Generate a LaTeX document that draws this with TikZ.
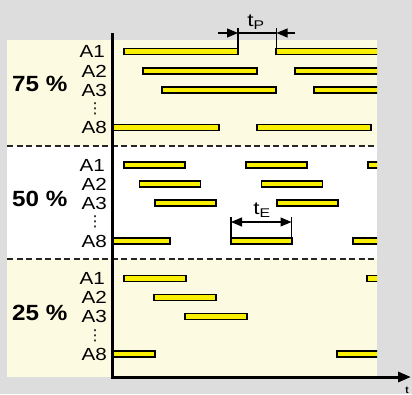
\documentclass[tikz,border=0pt]{standalone}
\usepackage{fontspec}
\setmainfont{Liberation Sans}
\newfontfamily\dejavu{DejaVu Sans}
\newfontfamily\widesans[FakeStretch=1.18]{Liberation Sans}
\newfontfamily\pctsans[FakeStretch=1.1]{Liberation Sans}
\newfontfamily\dimsans[FakeStretch=1.25]{Liberation Sans}
\usetikzlibrary{arrows.meta}
\definecolor{bggray}{HTML}{DDDDDD}
\definecolor{panel}{HTML}{FDFAE2}
\definecolor{baryellow}{HTML}{F8F000}
\tikzset{
  barbox/.style={fill=baryellow,draw=black,line width=1.5pt},
  rowlabel/.style={anchor=east,inner sep=0pt,font=\fontsize{17.5}{17.5}\widesans},
  pctlabel/.style={anchor=west,inner sep=0pt,font=\fontsize{22}{22}\pctsans\bfseries},
  dotslabel/.style={inner sep=0pt,font=\fontsize{15}{15}\dejavu},
  divider/.style={dashed,dash pattern=on 6pt off 3.5pt,line width=1.2pt,draw=black!85},
  dimline/.style={line width=1.1pt},
  extline/.style={line width=1.4pt},
  axisline/.style={line width=3pt},
  dimtip/.style={-{Triangle[length=11pt,width=9pt]}},
  dimlabel/.style={inner sep=0pt,font=\fontsize{18}{18}\dimsans}
}
\newcommand{\onebar}[3]{\draw[barbox] (#1,#3-3.2) rectangle (#2,#3+3.2);}
\begin{document}
\begin{tikzpicture}[x=1pt,y=-1pt]
\useasboundingbox (0,0) rectangle (412,394);
\fill[bggray] (0,0) rectangle (412,394);
\fill[panel] (7,40) rectangle (377,377);
\fill[white] (7,146) rectangle (377,259);
\draw[divider] (7,146) -- (377,146);
\draw[divider] (7,259) -- (377,259);
% bars
\begin{scope}
\clip (113,0) rectangle (377,394);
% 75 %
\onebar{124}{238}{51.5}\onebar{276}{390}{51.5}
\onebar{143}{257}{71}\onebar{295}{409}{71}
\onebar{162}{276}{90}\onebar{314}{428}{90}
\onebar{105}{219}{127.5}\onebar{257}{371}{127.5}
% 50 %
\onebar{124}{185}{165}\onebar{246}{307}{165}\onebar{368}{429}{165}
\onebar{139.5}{200.5}{184}\onebar{261.5}{322.5}{184}\onebar{383.5}{444.5}{184}
\onebar{155}{216}{203}\onebar{277}{338}{203}
\onebar{109}{170}{241}\onebar{231}{292}{241}\onebar{353}{414}{241}
% 25 %
\onebar{124}{186}{278.5}\onebar{367}{429}{278.5}
\onebar{154}{216}{297.5}
\onebar{185}{247}{316.5}
\onebar{93}{155}{354}\onebar{337}{399}{354}
\end{scope}
% axes
\coordinate (ytop) at (112.5,33);
\coordinate (origin) at (112.5,377);
\coordinate (xend) at (411,377);
\draw[axisline] (ytop) -- (112.5,378.5);
\draw[axisline,-{Triangle[length=13pt,width=10pt]}] (111,377) -- (xend);
\node[inner sep=0pt,font=\fontsize{10}{10}\selectfont\bfseries] (tlab) at (407,390) {t};
% row labels
\foreach \s/\a/\b/\c/\d/\e in {s1/51.5/71/90/108.5/127.5, s2/165/184/203/222/241, s3/278.5/297.5/316.5/335.5/354}{
  \node[rowlabel] (\s a1) at (105,\a) {A1};
  \node[rowlabel] (\s a2) at (107,\b) {A2};
  \node[rowlabel] (\s a3) at (107,\c) {A3};
  \node[dotslabel] (\s dots) at (95,\d) {⋮};
  \node[rowlabel] (\s a8) at (107,\e) {A8};
}
\node[pctlabel] (p75) at (12,84) {75 \%};
\node[pctlabel] (p50) at (12,199) {50 \%};
\node[pctlabel] (p25) at (12,313) {25 \%};
% t_P dimension
\coordinate (pL) at (238,33);
\coordinate (pR) at (276.5,33);
\coordinate (pLa) at (218,33);
\coordinate (pRa) at (295,33);
\draw[extline] (238,28) -- (238,48.5);
\draw[extline] (276.5,28) -- (276.5,48.5);
\draw[dimline] (pL) -- (pR);
\draw[dimline,dimtip] (pLa) -- (pL);
\draw[dimline,dimtip] (pRa) -- (pR);
\node[dimlabel] (tP) at (256,22) {t\textsubscript{P}};
% t_E dimension
\coordinate (eL) at (231,222);
\coordinate (eR) at (291.5,222);
\draw[extline] (231,217) -- (231,238);
\draw[extline] (291.5,217) -- (291.5,238);
\draw[dimline,{Triangle[length=11pt,width=9pt]}-{Triangle[length=11pt,width=9pt]}] (eL) -- (eR);
\node[dimlabel] (tE) at (262,210) {t\textsubscript{E}};
\end{tikzpicture}
\end{document}
